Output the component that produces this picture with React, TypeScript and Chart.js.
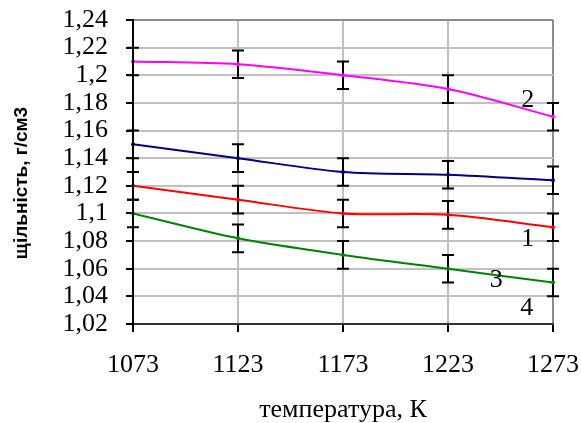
import React, { useEffect, useRef } from "react";
import { Chart, registerables } from "chart.js";

Chart.register(...registerables);

const temperatures = [1073, 1123, 1173, 1223, 1273];
const series1Red = [1.12, 1.11, 1.1, 1.099, 1.09];
const series2Magenta = [1.21, 1.208, 1.2, 1.19, 1.17];
const seriesBlue = [1.15, 1.14, 1.13, 1.128, 1.124];
const seriesGreen = [1.1, 1.082, 1.07, 1.06, 1.05];
const errorHalf = 0.01;

const yTitle = "щільність, г/см3";
const xTitle = "температура, К";

const curveLabels = [
  { text: "2", x: 1261, y: 1.182 },
  { text: "1", x: 1261, y: 1.0815 },
  { text: "3", x: 1246, y: 1.0518 },
  { text: "4", x: 1260.5, y: 1.0316 },
];

const serif = "'Liberation Serif', 'Times New Roman', serif";

const toPts = (vals: number[]) => vals.map((v, i) => ({ x: temperatures[i], y: v }));

const errorBarPlugin = {
  id: "errorBars",
  afterDatasetsDraw(chart: any) {
    const { ctx, scales } = chart;
    const xs = scales.x;
    const ys = scales.y;
    ctx.save();
    ctx.strokeStyle = "#000000";
    ctx.lineWidth = 2;
    chart.data.datasets.forEach((ds: any) => {
      ds.data.forEach((p: any) => {
        const px = xs.getPixelForValue(p.x);
        const top = ys.getPixelForValue(p.y + errorHalf);
        const bot = ys.getPixelForValue(p.y - errorHalf);
        ctx.beginPath();
        ctx.moveTo(px, top);
        ctx.lineTo(px, bot);
        ctx.moveTo(px - 6, top);
        ctx.lineTo(px + 6, top);
        ctx.moveTo(px - 6, bot);
        ctx.lineTo(px + 6, bot);
        ctx.stroke();
      });
    });
    chart.data.datasets.forEach((ds: any) => {
      ctx.fillStyle = ds.borderColor;
      ds.data.forEach((p: any) => {
        const px = xs.getPixelForValue(p.x);
        const py = ys.getPixelForValue(p.y);
        ctx.beginPath();
        ctx.arc(px, py, 2, 0, Math.PI * 2);
        ctx.fill();
      });
    });
    ctx.fillStyle = "#000000";
    ctx.font = "26px " + serif;
    ctx.textAlign = "center";
    ctx.textBaseline = "middle";
    curveLabels.forEach((l) => {
      ctx.fillText(l.text, xs.getPixelForValue(l.x), ys.getPixelForValue(l.y));
    });
    ctx.save();
    ctx.translate(22, (ys.top + ys.bottom) / 2 + 11);
    ctx.rotate(-Math.PI / 2);
    ctx.font = "bold 19px 'Liberation Sans', Arial, sans-serif";
    ctx.fillText(yTitle, 0, 0);
    ctx.restore();
    ctx.restore();
  },
};

const fmtY = (v: number) => {
  const r = Math.round(v * 100) / 100;
  return String(r).replace(".", ",");
};

export default function App() {
  const ref = useRef<HTMLCanvasElement>(null);
  useEffect(() => {
    if (!ref.current) return;
    const mk = (label: string, vals: number[], color: string) => ({
      label,
      data: toPts(vals),
      borderColor: color,
      backgroundColor: color,
      borderWidth: 2,
      pointRadius: 0,
      tension: 0.3,
      fill: false,
    });
    const chart = new Chart(ref.current, {
      type: "line",
      data: {
        datasets: [
          mk("2", series2Magenta, "#ff00ff"),
          mk("blue", seriesBlue, "#000080"),
          mk("1", series1Red, "#ff0000"),
          mk("3", seriesGreen, "#008000"),
        ],
      },
      options: {
        animation: false,
        responsive: false,
        layout: { padding: { top: 20, right: 28, left: 0, bottom: 0 } },
        plugins: { legend: { display: false }, tooltip: { enabled: false } },
        scales: {
          x: {
            type: "linear",
            min: 1073,
            max: 1273,
            afterFit: (s: any) => {
              s.height = 99;
              s.paddingLeft = 0;
              s.paddingRight = 0;
            },
            afterBuildTicks: (s: any) => {
              s.ticks = temperatures.map((t) => ({ value: t }));
            },
            ticks: {
              color: "#000000",
              font: { family: serif, size: 26 },
              padding: 18,
              maxRotation: 0,
              autoSkip: false,
              callback: (v: any) => String(v),
            },
            grid: {
              color: (c: any) => (c.tick && c.tick.value === 1273 ? "#8c8c8c" : "#c0c0c0"),
              lineWidth: 2,
              tickColor: "#000000",
              tickLength: 8,
            },
            border: { color: "#333333", width: 2, z: 1 },
            title: {
              display: true,
              text: xTitle,
              color: "#000000",
              font: { family: serif, size: 26 },
              padding: { top: 0, bottom: -3 },
            },
          },
          y: {
            min: 1.02,
            max: 1.24,
            afterFit: (s: any) => {
              s.width = 133;
              s.paddingTop = 0;
              s.paddingBottom = 0;
            },
            ticks: {
              stepSize: 0.02,
              autoSkip: false,
              color: "#000000",
              font: { family: serif, size: 26 },
              padding: 18,
              callback: (v: any) => fmtY(v),
            },
            grid: {
              color: (c: any) =>
                c.tick && Math.abs(c.tick.value - 1.24) < 1e-6 ? "#8c8c8c" : "#c0c0c0",
              lineWidth: 2,
              tickColor: "#000000",
              tickLength: 7,
            },
            border: { color: "#000000", width: 2, z: 1 },
          },
        },
      },
      plugins: [errorBarPlugin],
    });
    return () => chart.destroy();
  }, []);
  return (
    <div style={{ position: "absolute", left: 0, top: 0, width: 581, height: 423, background: "#ffffff" }}>
      <canvas ref={ref} width={581} height={423} style={{ display: "block" }} />
    </div>
  );
}
